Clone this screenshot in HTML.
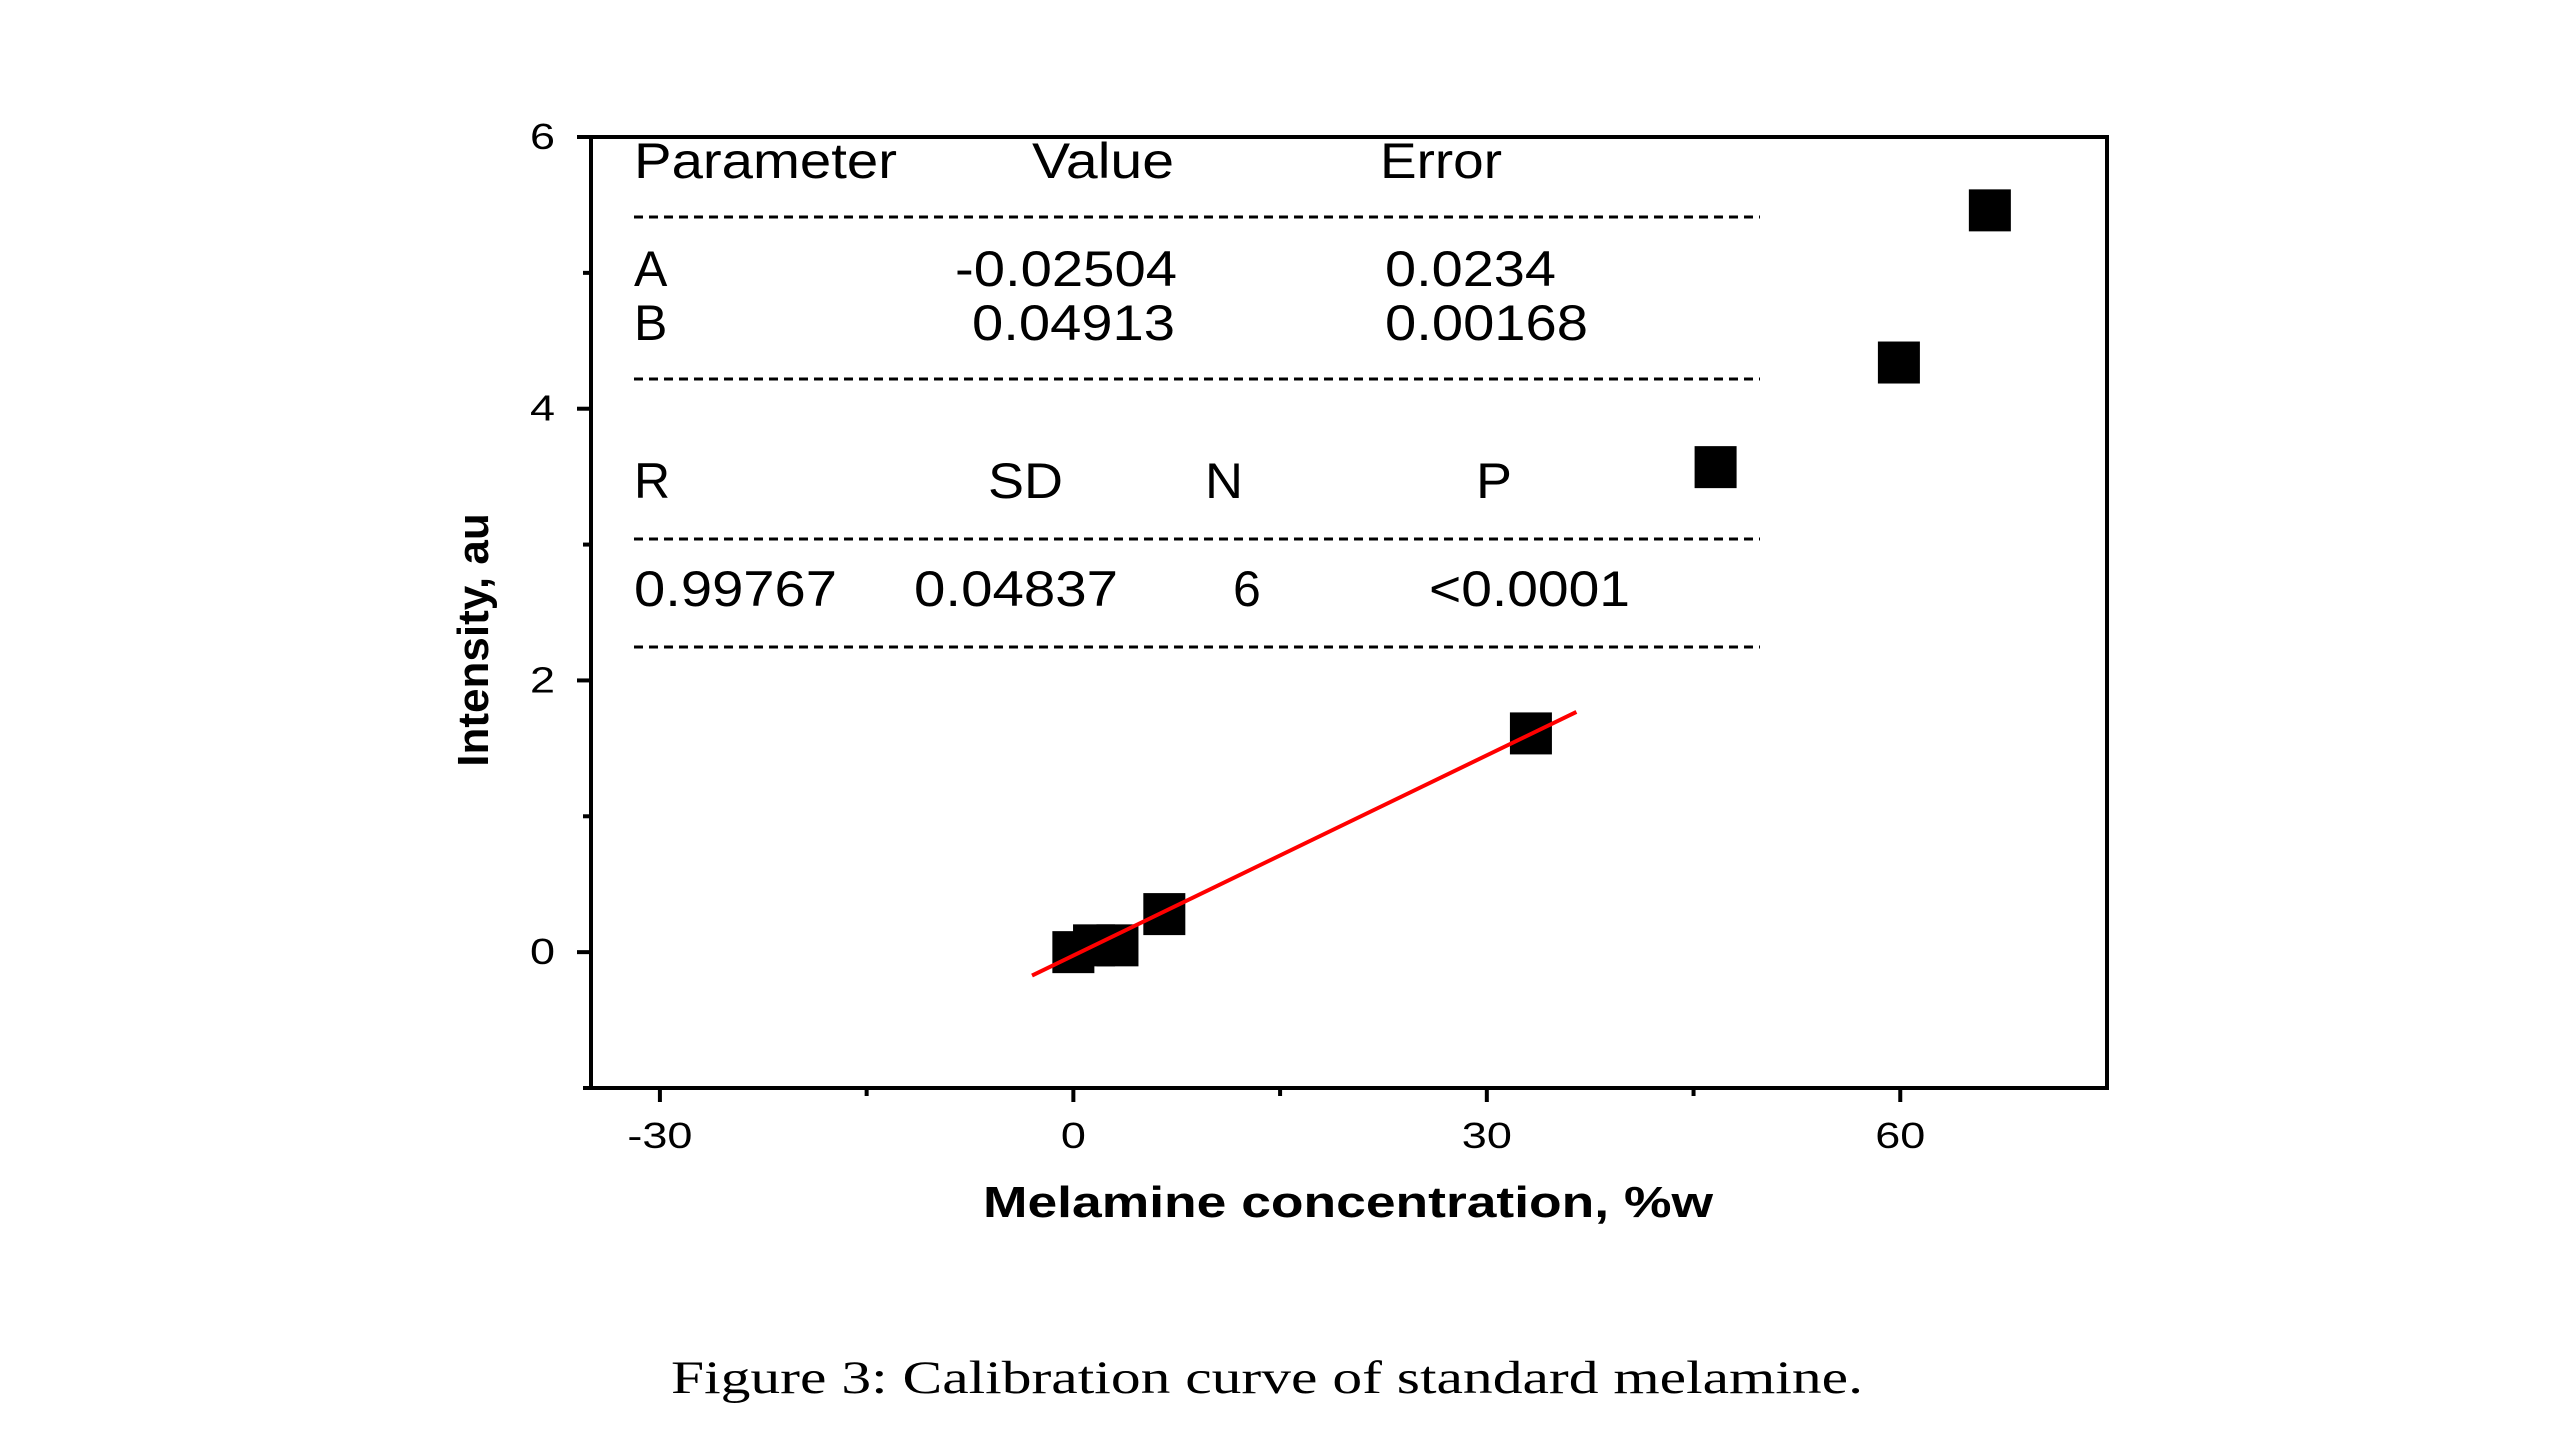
<!DOCTYPE html>
<html><head><meta charset="utf-8"><style>
html,body{margin:0;padding:0;background:#fff;}
svg{display:block;}
text{font-family:"Liberation Sans",sans-serif;}
</style></head><body>
<svg id="chart" width="2560" height="1440" viewBox="0 0 2560 1440" xmlns="http://www.w3.org/2000/svg">
<g id="axes"></g>
<g id="table" font-size="50" fill="#000" lengthAdjust="spacingAndGlyphs">
  <text x="634" y="178" textLength="263" lengthAdjust="spacingAndGlyphs">Parameter</text>
  <text x="1032" y="178" textLength="142" lengthAdjust="spacingAndGlyphs">Value</text>
  <text x="1380" y="178" textLength="122" lengthAdjust="spacingAndGlyphs">Error</text>
  <text x="634" y="286">A</text>
  <text x="955" y="286" textLength="222" lengthAdjust="spacingAndGlyphs">-0.02504</text>
  <text x="1385" y="286" textLength="171" lengthAdjust="spacingAndGlyphs">0.0234</text>
  <text x="634" y="340">B</text>
  <text x="972" y="340" textLength="203" lengthAdjust="spacingAndGlyphs">0.04913</text>
  <text x="1385" y="340" textLength="203" lengthAdjust="spacingAndGlyphs">0.00168</text>
  <text x="634" y="498">R</text>
  <text x="988" y="498" textLength="75" lengthAdjust="spacingAndGlyphs">SD</text>
  <text x="1205" y="498" textLength="38" lengthAdjust="spacingAndGlyphs">N</text>
  <text x="1476" y="498" textLength="36" lengthAdjust="spacingAndGlyphs">P</text>
  <text x="634" y="606" textLength="203" lengthAdjust="spacingAndGlyphs">0.99767</text>
  <text x="914" y="606" textLength="204" lengthAdjust="spacingAndGlyphs">0.04837</text>
  <text x="1233" y="606">6</text>
  <text x="1429" y="606" textLength="201" lengthAdjust="spacingAndGlyphs">&lt;0.0001</text>
  <g stroke="#000" stroke-width="3" stroke-dasharray="9,6">
    <line x1="634" x2="1760" y1="217" y2="217"/>
    <line x1="634" x2="1760" y1="379" y2="379"/>
    <line x1="634" x2="1760" y1="539" y2="539"/>
    <line x1="634" x2="1760" y1="647" y2="647"/>
  </g>
</g>
<g id="marks"></g>
<text x="983" y="1217" font-size="44" font-weight="bold" textLength="730" lengthAdjust="spacingAndGlyphs">Melamine concentration, %w</text>
<text transform="translate(488,640) rotate(-90)" text-anchor="middle" font-size="44" font-weight="bold">Intensity, au</text>
<text x="671" y="1393" font-size="47" textLength="1192" lengthAdjust="spacingAndGlyphs" style="font-family:'Liberation Serif',serif">Figure 3: Calibration curve of standard melamine.</text>
</svg>
<script>
const xValues = [0, 1.5, 3.2, 6.6, 33.2, 46.6, 59.9, 66.5];
const yValues = [0, 0.05, 0.05, 0.28, 1.61, 3.57, 4.34, 5.46];
const xTickLabels = [-30, 0, 30, 60];
const xMinorTicks = [-15, 15, 45];
const yTickLabels = [0, 2, 4, 6];
const yMinorTicks = [-1, 1, 3, 5];
const fitA = -0.02504;
const fitB = 0.04913;
const fitRange = [-3, 36.5];

const L=591,R=2107,T=137,B=1088;
const xMin=-35,xMax=75,yMin=-1,yMax=6;
const sx=v=>L+(v-xMin)/(xMax-xMin)*(R-L);
const sy=v=>B-(v-yMin)/(yMax-yMin)*(B-T);
const NS='http://www.w3.org/2000/svg';
function mk(tag,attrs,parent){const e=document.createElementNS(NS,tag);for(const k in attrs)e.setAttribute(k,attrs[k]);parent.appendChild(e);return e;}
function lblWidth(s){let w=0;for(const c of String(s))w+=(c==='-'?0.333:0.556);return w*36*1.25;}
const axes=document.getElementById('axes');
const frame=mk('rect',{x:L,y:T,width:R-L,height:B-T,fill:'none',stroke:'#000','stroke-width':4},axes);


xTickLabels.forEach(v=>{
  const t=mk('line',{x1:sx(v),x2:sx(v),y1:B,y2:B+14,stroke:'#000','stroke-width':4},axes);
  
  
  const w=lblWidth(v);
  const l=mk('text',{x:sx(v)-w/2,y:1148,'font-size':36,textLength:w,lengthAdjust:'spacingAndGlyphs'},axes);
  l.textContent=v;
  
  
});
xMinorTicks.forEach(v=>{
  const t=mk('line',{x1:sx(v),x2:sx(v),y1:B,y2:B+8,stroke:'#000','stroke-width':4},axes);
  
  
});
yTickLabels.forEach(v=>{
  const t=mk('line',{x1:L-14,x2:L,y1:sy(v),y2:sy(v),stroke:'#000','stroke-width':4},axes);
  
  
  const w=lblWidth(v);
  const l=mk('text',{x:555-w,y:sy(v)+12,'font-size':36,textLength:w,lengthAdjust:'spacingAndGlyphs'},axes);
  l.textContent=v;
  
  
});
yMinorTicks.forEach(v=>{
  const t=mk('line',{x1:L-8,x2:L,y1:sy(v),y2:sy(v),stroke:'#000','stroke-width':4},axes);
  
  
});
const marks=document.getElementById('marks');
const s=42;
xValues.forEach((x,i)=>{
  const r=mk('rect',{x:sx(x)-s/2,y:sy(yValues[i])-s/2,width:s,height:s,fill:'#000'},marks);
  
  
});
const fl=mk('line',{x1:sx(fitRange[0]),y1:sy(fitA+fitB*fitRange[0]),x2:sx(fitRange[1]),y2:sy(fitA+fitB*fitRange[1]),stroke:'#ff0000','stroke-width':4},marks);


</script>
</body></html>
